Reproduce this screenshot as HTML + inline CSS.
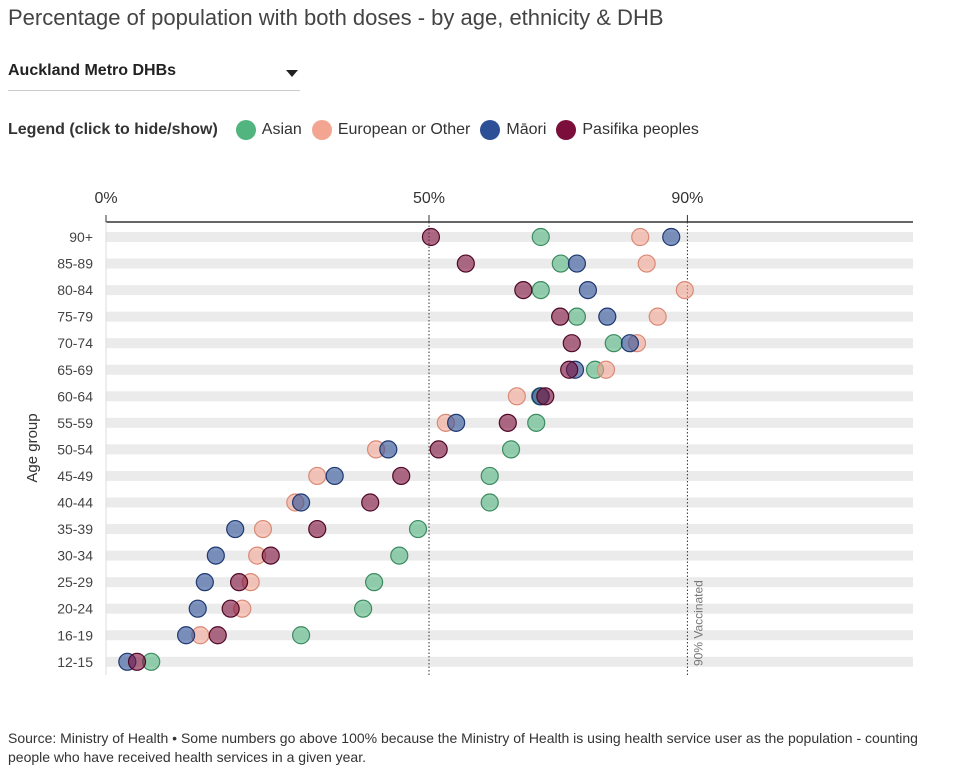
<!DOCTYPE html>
<html><head><meta charset="utf-8"><style>
body{margin:0;width:963px;height:778px;background:#fff;font-family:"Liberation Sans",sans-serif;color:#333;position:relative;overflow:hidden}
.title{position:absolute;left:8px;top:5px;font-size:22px;color:#444}
.dd{position:absolute;left:8px;top:62px;width:292px;height:28px;border-bottom:1px solid #ccc;font-weight:bold;font-size:16px;color:#222}
.dd span.arrow{position:absolute;right:2px;top:8px;width:0;height:0;border-left:6px solid transparent;border-right:6px solid transparent;border-top:7px solid #222}
.legend{position:absolute;left:8px;top:120px;font-size:16px;display:flex;align-items:center}
.legend b{margin-right:18px}
.li{display:flex;align-items:center;margin-right:10px;cursor:pointer}
.dot{width:20px;height:20px;border-radius:50%;margin-right:6px}
.src{position:absolute;left:8px;top:729px;font-size:14px;line-height:19px;color:#333;width:955px}
</style></head><body>
<div class="title">Percentage of population with both doses - by age, ethnicity &amp; DHB</div>
<div class="dd">Auckland Metro DHBs<span class="arrow"></span></div>
<div class="legend"><b>Legend (click to hide/show)</b>
<div class="li"><div class="dot" style="background:#52b57f"></div>Asian</div>
<div class="li"><div class="dot" style="background:#f3a592"></div>European or Other</div>
<div class="li"><div class="dot" style="background:#2c4f96"></div>Māori</div>
<div class="li"><div class="dot" style="background:#7b0e3b"></div>Pasifika peoples</div>
</div>
<svg id="chart" width="963" height="720" style="position:absolute;left:0;top:0"></svg>
<div class="src">Source: Ministry of Health • Some numbers go above 100% because the Ministry of Health is using health service user as the population - counting people who have received health services in a given year.</div>
<script>
const ages=["90+","85-89","80-84","75-79","70-74","65-69","60-64","55-59","50-54","45-49","40-44","35-39","30-34","25-29","20-24","16-19","12-15"];
const asian=[67.3,70.4,67.3,72.9,78.6,75.7,67.2,66.6,62.7,59.4,59.4,48.3,45.4,41.5,39.8,30.2,7];
const european=[82.7,83.7,89.6,85.4,82.2,77.4,63.6,52.6,41.8,32.7,29.3,24.3,23.4,22.4,21.1,14.6,null];
const maori=[87.5,72.9,74.6,77.6,81.1,72.6,67.3,54.2,43.7,35.4,30.2,20,17,15.3,14.2,12.4,3.3];
const pasifika=[50.3,55.7,64.6,70.3,72.1,71.7,68,62.2,51.5,45.7,40.9,32.7,25.5,20.6,19.3,17.3,4.8];
const ticks=[0,50,90];
const NS="http://www.w3.org/2000/svg",svg=document.getElementById('chart');
const x=v=>106+v*6.46, y=i=>237+i*26.55;
function mk(t,a){const e=document.createElementNS(NS,t);for(const k in a)e.setAttribute(k,a[k]);svg.appendChild(e);return e;}
ages.forEach((a,i)=>{
 const b=mk('rect',{x:106,y:y(i)-5,width:807,height:10,fill:'#ebebeb'});
 
 
 const t=mk('text',{x:93,y:y(i)+5,'text-anchor':'end','font-size':14,fill:'#444'});t.textContent=a;
 
 
});
const ax=mk('line',{x1:106,x2:913,y1:222,y2:222,stroke:'#333','stroke-width':1.5});


ticks.forEach(v=>{
 mk('line',{x1:x(v),x2:x(v),y1:215,y2:222,stroke:'#333'});
 const t=mk('text',{x:x(v),y:203,'text-anchor':'middle','font-size':16,fill:'#333'});t.textContent=v+'%';
 
 
 if(v>0){const l=mk('line',{x1:x(v),x2:x(v),y1:222,y2:675,stroke:'#333','stroke-dasharray':'1.5,2'});
 
 }
});
mk('line',{x1:106,x2:106,y1:222,y2:675,stroke:'#ddd'});
const vt=mk('text',{transform:`translate(${x(90)+15},666) rotate(-90)`,'font-size':12,fill:'#777'});vt.textContent='90% Vaccinated';


const yt=mk('text',{transform:'translate(37,448) rotate(-90)','text-anchor':'middle','font-size':15,fill:'#333'});yt.textContent='Age group';


const series=[[asian,'#52b57f','#3d8a60'],[european,'#f3a592','#d98a77'],[maori,'#2c4f96','#1e3870'],[pasifika,'#7b0e3b','#4f0825']];
series.forEach(([d,f,s])=>{d.forEach((v,i)=>{if(v==null)return;
 const c=mk('circle',{cx:x(v),cy:y(i),r:8.5,fill:f,'fill-opacity':0.6,stroke:s,'stroke-width':1.2});
 
 
});});
</script>
</body></html>
